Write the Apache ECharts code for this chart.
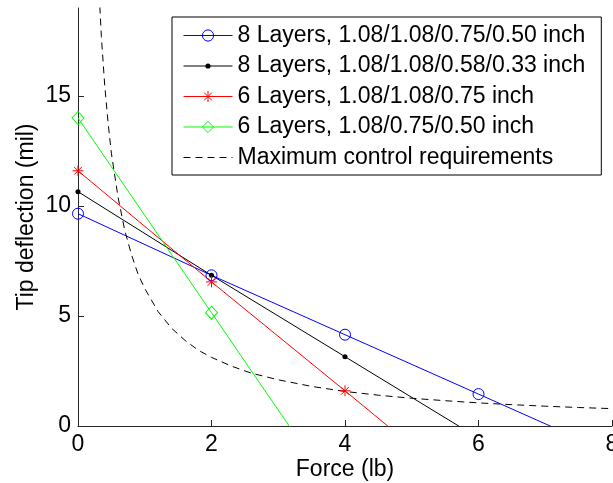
<!DOCTYPE html>
<html>
<head>
<meta charset="utf-8">
<script src="https://cdn.jsdelivr.net/npm/echarts@6/dist/echarts.min.js"></script>
<style>
html,body{margin:0;padding:0;background:#fff;}
#chart{width:613px;height:483px;}
</style>
</head>
<body>
<div id="chart"></div>
<script>
// ---- data ----
const seriesNames = [
  '8 Layers, 1.08/1.08/0.75/0.50 inch',
  '8 Layers, 1.08/1.08/0.58/0.33 inch',
  '6 Layers, 1.08/1.08/0.75 inch',
  '6 Layers, 1.08/0.75/0.50 inch',
  'Maximum control requirements'
];
const forceX = [0, 2, 4, 6, 8];
const layers8a = [9.65, 6.85, 4.15, 1.45, -1.25];
const layers8b = [10.65, 6.85, 3.15, -0.55, -4.25];
const layers6a = [11.6, 6.55, 1.6, -3.4, -8.4];
const layers6b = [14.0, 5.15, -3.7, -12.5, -21.3];
const reqX = [0.3, 0.35, 0.4, 0.45, 0.5, 0.6, 0.7, 0.8, 0.9, 1.0, 1.2, 1.4, 1.6, 1.8, 2.0, 2.3, 2.6, 3.0, 3.5, 4.0, 4.5, 5.0, 5.5, 6.0, 6.5, 7.0, 7.5, 8.0];
const reqY = [20.7, 17.7, 15.5, 13.8, 12.4, 10.4, 8.9, 7.8, 6.9, 6.25, 5.2, 4.45, 3.9, 3.45, 3.12, 2.72, 2.4, 2.1, 1.8, 1.57, 1.4, 1.26, 1.15, 1.05, 0.97, 0.9, 0.84, 0.79];
const xTicks = [0, 2, 4, 6, 8];
const yTicks = [0, 5, 10, 15];
const xTitle = 'Force (lb)';
const yTitle = 'Tip deflection (mil)';

const FONT = "'Liberation Sans', Arial, Helvetica, sans-serif";
const pair = (xs, ys) => xs.map((x, i) => [x, ys[i]]);

const asteriskPath = 'path://M5 0L5 10M0 5L10 5M1.5 1.5L8.5 8.5M8.5 1.5L1.5 8.5';
const dotPath = 'path://M0 0M10 10M5 2.7A2.3 2.3 0 1 1 5 7.3A2.3 2.3 0 1 1 5 2.7Z';

const chart = echarts.init(document.getElementById('chart'), null, {renderer: 'canvas'});
chart.setOption({
  animation: false,
  backgroundColor: '#fff',
  grid: {left: 78, right: 1, top: 8, bottom: 57, containLabel: false, outerBoundsMode: 'none'},
  xAxis: {
    type: 'value', min: 0, max: 8, interval: 2,
    name: xTitle, nameLocation: 'middle', nameGap: 32, nameMoveOverlap: false,
    nameTextStyle: {fontFamily: FONT, fontSize: 23, color: '#000'},
    axisLine: {show: true, lineStyle: {color: '#262626', width: 1}},
    axisTick: {show: true, inside: true, length: 6, customValues: xTicks, lineStyle: {color: '#262626'}},
    axisLabel: {fontFamily: FONT, fontSize: 23, color: '#000', margin: 7, customValues: xTicks},
    splitLine: {show: false}
  },
  yAxis: {
    type: 'value', min: 0, max: 19, interval: 5,
    name: yTitle, nameLocation: 'middle', nameGap: 40, nameRotate: 90, nameMoveOverlap: false,
    nameTextStyle: {fontFamily: FONT, fontSize: 23, color: '#000'},
    axisLine: {show: true, lineStyle: {color: '#262626', width: 1}},
    axisTick: {show: true, inside: true, length: 6, customValues: yTicks, lineStyle: {color: '#262626'}},
    axisLabel: {fontFamily: FONT, fontSize: 23, color: '#000', margin: 7, customValues: yTicks},
    splitLine: {show: false}
  },
  legend: {
    orient: 'vertical', left: 172, top: 17,
    padding: [7, 16, 6, 11], itemGap: 7.5,
    itemWidth: 49, itemHeight: 14,
    backgroundColor: '#fff', borderColor: '#000', borderWidth: 1,
    textStyle: {fontFamily: FONT, fontSize: 23, lineHeight: 23, color: '#000'},
    itemStyle: {borderWidth: 1},
    lineStyle: {width: 1},
    data: seriesNames.slice(0, 4).concat([{name: seriesNames[4], itemStyle: {opacity: 0}}])
  },
  series: [
    {
      name: seriesNames[0], type: 'line', data: pair(forceX, layers8a),
      symbol: 'circle', symbolSize: 11, clip: true,
      lineStyle: {color: '#0000ff', width: 1},
      itemStyle: {color: 'none', borderColor: '#0000ff', borderWidth: 1}
    },
    {
      name: seriesNames[1], type: 'line', data: pair(forceX, layers8b),
      symbol: dotPath, symbolSize: 11, clip: true,
      lineStyle: {color: '#000000', width: 1},
      itemStyle: {color: '#000000', borderWidth: 0}
    },
    {
      name: seriesNames[2], type: 'line', data: pair(forceX, layers6a),
      symbol: asteriskPath, symbolSize: 11, clip: true,
      lineStyle: {color: '#ff0000', width: 1},
      itemStyle: {color: 'none', borderColor: '#ff0000', borderWidth: 1}
    },
    {
      name: seriesNames[3], type: 'line', data: pair(forceX, layers6b),
      symbol: 'diamond', symbolSize: [12, 13], clip: true,
      lineStyle: {color: '#00ff00', width: 1},
      itemStyle: {color: 'none', borderColor: '#00ff00', borderWidth: 1}
    },
    {
      name: seriesNames[4], type: 'line', data: pair(reqX, reqY),
      symbol: 'none', clip: true,
      lineStyle: {color: '#000000', width: 1, type: [7, 5]},
      itemStyle: {color: 'transparent', borderColor: 'transparent', borderWidth: 0}
    }
  ]
});
</script>
</body>
</html>
